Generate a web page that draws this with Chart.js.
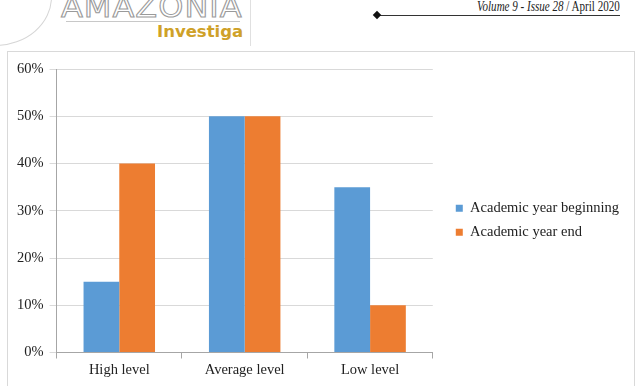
<!DOCTYPE html>
<html>
<head>
<meta charset="utf-8">
<script src="https://cdn.jsdelivr.net/npm/chart.js@4.4.1/dist/chart.umd.min.js"></script>
<style>
  html, body { margin: 0; padding: 0; background: #fff; overflow: hidden; width: 637px; height: 386px; }
  #hdr { position: absolute; left: 0; top: 0; width: 637px; height: 50px; }
  #circ { position: absolute; left: -62px; top: -52px; width: 112px; height: 96px; border: 1.5px solid #d6d6d6; border-radius: 50%; }
  #amz { position: absolute; left: 61px; top: -12px; font-family: "DejaVu Sans", sans-serif; font-size: 31px; letter-spacing: 1px; color: #fff; -webkit-text-stroke: 1.1px #9a9a9a; transform: scaleX(1.03); transform-origin: left; white-space: nowrap; }
  #uline { position: absolute; left: 66px; top: 21px; width: 174px; height: 1px; background: #c8c8c8; }
  #inv { position: absolute; left: 157px; top: 22px; font-family: "DejaVu Sans", sans-serif; font-weight: bold; font-size: 16.5px; color: #cfa128; white-space: nowrap; }
  #vline { position: absolute; left: 250px; top: 0; width: 1px; height: 46px; background: #e0e0e0; }
  #vol { position: absolute; right: 17px; top: -1px; font-family: "Liberation Serif", serif; font-size: 14px; color: #222; white-space: nowrap; transform: scaleX(0.79); transform-origin: right; }
  #vol i { font-style: italic; }
  #hline { position: absolute; left: 378px; top: 15px; width: 242px; height: 1px; background: #333; }
  #dia { position: absolute; left: 374px; top: 12px; width: 6px; height: 6px; background: #111; transform: rotate(45deg); }
  #frame { position: absolute; left: 7px; top: 51px; width: 626px; height: 345px; border: 1px solid #d9d9d9; }
  #wrap { position: absolute; left: 8px; top: 52px; width: 640px; height: 345px; }
</style>
</head>
<body>
<div id="hdr">
  <div id="circ"></div>
  <div id="amz">AMAZONIA</div>
  <div id="uline"></div>
  <div id="inv">Investiga</div>
  <div id="vline"></div>
  <div id="vol"><i>Volume 9 - Issue 28</i> / April 2020</div>
  <div id="hline"></div>
  <div id="dia"></div>
</div>
<div id="frame"></div>
<div id="wrap"><canvas id="c"></canvas></div>
<script>
const categories = ["High level", "Average level", "Low level"];
const seriesNames = ["Academic year beginning", "Academic year end"];
const beginningValues = [15, 50, 35];
const endValues = [40, 50, 10];
const yTicks = [0, 10, 20, 30, 40, 50, 60];

const serif = 'Liberation Serif';
const ctx = document.getElementById('c');
new Chart(ctx, {
  type: 'bar',
  data: {
    labels: categories,
    datasets: [
      { label: seriesNames[0], data: beginningValues, backgroundColor: '#5b9bd5', categoryPercentage: 0.57, barPercentage: 1.0 },
      { label: seriesNames[1], data: endValues, backgroundColor: '#ed7d31', categoryPercentage: 0.57, barPercentage: 1.0 }
    ]
  },
  options: {
    responsive: true,
    maintainAspectRatio: false,
    animation: false,
    layout: { padding: { top: 17, bottom: 16, left: 3, right: 19 } },
    plugins: {
      legend: {
        position: 'right',
        fullSize: false,
        maxWidth: 240,
        title: { display: true, text: ' ', font: { size: 1 }, padding: { top: 0, bottom: 17.8 } },
        labels: { boxWidth: 7, boxHeight: 7, padding: 9.5, color: '#222', font: { family: serif, size: 14.5 } }
      },
      tooltip: { enabled: false }
    },
    scales: {
      x: {
        grid: { display: true, drawOnChartArea: false, offset: true, color: '#a6a6a6', tickLength: 6 },
        border: { color: '#a6a6a6' },
        ticks: { color: '#222', font: { family: serif, size: 14.5, lineHeight: 1.0 }, padding: 4 }
      },
      y: {
        min: 0, max: 60,
        afterBuildTicks: (axis) => { axis.ticks = yTicks.map(v => ({ value: v })); },
        grid: { color: '#d9d9d9', tickLength: 7 },
        border: { color: '#a6a6a6' },
        ticks: { color: '#222', font: { family: serif, size: 14.5 }, padding: 6, callback: (v) => v + '%' }
      },
      gap: {
        position: 'right', display: true, min: 0, max: 1,
        afterFit: (s) => { s.width = 13.5; },
        grid: { display: false }, border: { display: false }, ticks: { display: false }
      }
    }
  }
});
</script>
</body>
</html>
